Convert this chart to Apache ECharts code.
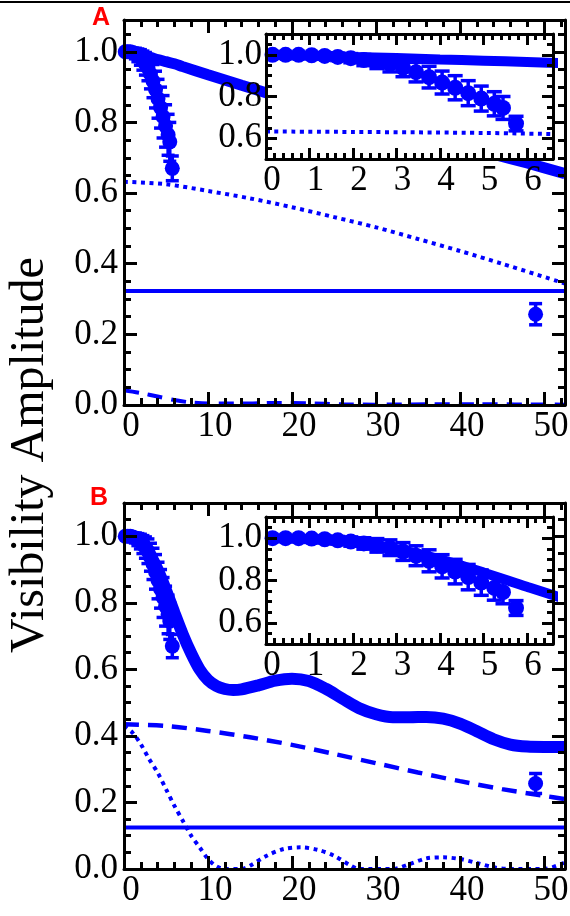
<!DOCTYPE html>
<html>
<head>
<meta charset="utf-8">
<script src="https://cdn.jsdelivr.net/npm/echarts@6/dist/echarts.min.js"></script>
<style>
html, body { margin: 0; padding: 0; background: #fff; }
#chart { width: 570px; height: 916px; }
</style>
</head>
<body>
<div id="chart"></div>
<script>
const blue = '#0000ff';
const serif = 'Liberation Serif';

// measured visibilities (same in A and B)
const ptX = [0.15, 0.45, 0.75, 1.05, 1.35, 1.65, 1.95, 2.25, 2.55, 2.85, 3.15, 3.45, 3.75, 4.05, 4.35, 4.65, 4.95, 5.25, 5.45, 5.75, 49.0];
const ptY = [1.0, 1.0, 1.0, 0.998, 0.995, 0.99, 0.984, 0.975, 0.966, 0.955, 0.937, 0.917, 0.893, 0.867, 0.842, 0.816, 0.79, 0.765, 0.745, 0.67, 0.257];
const ptErr = [0.008, 0.008, 0.01, 0.012, 0.015, 0.018, 0.022, 0.027, 0.032, 0.037, 0.042, 0.047, 0.052, 0.055, 0.058, 0.06, 0.06, 0.058, 0.055, 0.035, 0.03];

// tick labels
const mainXTicks = [0, 10, 20, 30, 40, 50];
const mainYTicks = [0, 0.2, 0.4, 0.6, 0.8, 1.0];
const insetXTicks = [0, 1, 2, 3, 4, 5, 6];
const insetYTicks = [0.6, 0.8, 1.0];

// panel A model curves
const fitA = [[0, 1.0], [1, 0.995], [2, 0.99], [3, 0.985], [4, 0.978], [5, 0.972], [6, 0.966], [7, 0.958], [10, 0.935], [14, 0.905], [20, 0.862], [26, 0.82], [32, 0.782], [38, 0.745], [44, 0.71], [48, 0.685], [52.5, 0.655]];
const dotA = [[0, 0.632], [5, 0.625], [10, 0.606], [15, 0.585], [20, 0.56], [25, 0.532], [30, 0.503], [35, 0.47], [40, 0.436], [45, 0.4], [52.5, 0.344]];
const flatA = [[0, 0.323], [52.5, 0.323]];
const dashA = [[0, 0.042], [2, 0.034], [4, 0.024], [6, 0.014], [8, 0.007], [10, 0.004], [14, 0.004], [18, 0.006], [22, 0.005], [26, 0.002], [30, 0.001], [36, 0.002], [42, 0.002], [52.5, 0.001]];

// panel B model curves
const fitB = [[0, 1.0], [1, 0.995], [2, 0.98], [3, 0.948], [4, 0.9], [5, 0.838], [6, 0.77], [7, 0.705], [8, 0.648], [9, 0.6], [10, 0.568], [11, 0.55], [12, 0.541], [13, 0.538], [14, 0.54], [16, 0.552], [18, 0.566], [20, 0.572], [22, 0.565], [24, 0.542], [26, 0.512], [28, 0.483], [30, 0.465], [32, 0.456], [34, 0.456], [36, 0.457], [38, 0.452], [40, 0.437], [42, 0.414], [44, 0.39], [46, 0.374], [48, 0.368], [50, 0.367], [52.5, 0.367]];
const dashB = [[0, 0.435], [5, 0.43], [10, 0.415], [15, 0.396], [20, 0.373], [25, 0.346], [30, 0.318], [35, 0.29], [40, 0.264], [45, 0.24], [50, 0.22], [52.5, 0.21]];
const dotB = [[0, 0.43], [1, 0.41], [2, 0.375], [3, 0.33], [4, 0.29], [5, 0.24], [6, 0.19], [7, 0.145], [8, 0.1], [9, 0.065], [10, 0.03], [11, 0.008], [12, 0.0], [14, 0.0], [15, 0.01], [17, 0.04], [19, 0.06], [21, 0.065], [23, 0.058], [25, 0.04], [27, 0.01], [28, 0], [32, 0], [34, 0.015], [36, 0.032], [38, 0.035], [40, 0.03], [42, 0.018], [44, 0.005], [46, 0], [50, 0], [52.5, 0.02]];
const flatB = [[0, 0.125], [52.5, 0.125]];

const pts = ptX.map((x, i) => [x, ptY[i], ptErr[i]]);

// A main, A inset, B main, B inset
const grids = [
  { left: 124, top: 20, width: 441, height: 385 },
  { left: 266, top: 34, width: 287, height: 125 },
  { left: 124, top: 503, width: 441, height: 366 },
  { left: 266, top: 517, width: 287, height: 127 }
];

const tickStyle = { color: '#000', width: 3 };

function xAxesFor(g, min, max, ticks, step, z, majLen, minLen, pad) {
  const base = { type: 'value', gridIndex: g, min, max, splitLine: { show: false }, z };
  const line = { show: true, onZero: false, lineStyle: { color: '#000', width: 3 } };
  const noLine = { show: false, onZero: false };
  return [
    { ...base, position: 'bottom', axisLine: line,
      axisTick: { inside: true, length: majLen, lineStyle: tickStyle, customValues: ticks },
      axisLabel: { customValues: ticks, fontFamily: serif, fontSize: 35, color: '#000', margin: 4,
        padding: [0, 0, 0, pad], formatter: v => String(v) } },
    { ...base, position: 'bottom', interval: step, axisLine: noLine,
      axisTick: { inside: true, length: minLen, lineStyle: tickStyle }, axisLabel: { show: false } },
    { ...base, position: 'top', axisLine: line,
      axisTick: { inside: true, length: majLen, lineStyle: tickStyle, customValues: ticks }, axisLabel: { show: false } },
    { ...base, position: 'top', interval: step, axisLine: noLine,
      axisTick: { inside: true, length: minLen, lineStyle: tickStyle }, axisLabel: { show: false } }
  ];
}

function yAxesFor(g, min, max, ticks, step, z, majLen, minLen, margin) {
  const base = { type: 'value', gridIndex: g, min, max, splitLine: { show: false }, z };
  const line = { show: true, onZero: false, lineStyle: { color: '#000', width: 3 } };
  const noLine = { show: false, onZero: false };
  return [
    { ...base, position: 'left', axisLine: line,
      axisTick: { inside: true, length: majLen, lineStyle: tickStyle, customValues: ticks },
      axisLabel: { customValues: ticks, fontFamily: serif, fontSize: 35, color: '#000', margin,
        formatter: v => v.toFixed(1) } },
    { ...base, position: 'left', interval: step, axisLine: noLine,
      axisTick: { inside: true, length: minLen, lineStyle: tickStyle }, axisLabel: { show: false } },
    { ...base, position: 'right', axisLine: line,
      axisTick: { inside: true, length: majLen, lineStyle: tickStyle, customValues: ticks }, axisLabel: { show: false } },
    { ...base, position: 'right', interval: step, axisLine: noLine,
      axisTick: { inside: true, length: minLen, lineStyle: tickStyle }, axisLabel: { show: false } }
  ];
}

function curve(g, data, width, type, z, smooth) {
  return {
    type: 'line', xAxisIndex: 4 * g, yAxisIndex: 4 * g, data, symbol: 'none',
    smooth: smooth === undefined ? 0.3 : smooth, clip: true, silent: true, z,
    lineStyle: { color: blue, width, type, cap: 'butt', opacity: 1 }
  };
}

function errBars(g, capW, z) {
  return {
    type: 'custom', xAxisIndex: 4 * g, yAxisIndex: 4 * g, data: pts, clip: true, silent: true, z,
    encode: { x: 0, y: 1 },
    renderItem(params, api) {
      const x = api.value(0), y = api.value(1), e = api.value(2);
      const hi = api.coord([x, y + e]), lo = api.coord([x, y - e]);
      const st = { stroke: blue, lineWidth: 3.5 };
      return {
        type: 'group', children: [
          { type: 'line', shape: { x1: hi[0], y1: hi[1], x2: lo[0], y2: lo[1] }, style: st },
          { type: 'line', shape: { x1: hi[0] - capW / 2, y1: hi[1], x2: hi[0] + capW / 2, y2: hi[1] }, style: st },
          { type: 'line', shape: { x1: lo[0] - capW / 2, y1: lo[1], x2: lo[0] + capW / 2, y2: lo[1] }, style: st }
        ]
      };
    }
  };
}

function dots(g, size, z) {
  return {
    type: 'scatter', xAxisIndex: 4 * g, yAxisIndex: 4 * g, data: pts.map(p => [p[0], p[1]]),
    symbol: 'circle', symbolSize: size, itemStyle: { color: blue, opacity: 1 }, clip: true, silent: true, z
  };
}

const dotted = [4, 4.5];
const dashed = [15, 9];

const chart = echarts.init(document.getElementById('chart'));
chart.setOption({
  animation: false,
  backgroundColor: '#fff',
  grid: grids.map((g, i) => ({
    ...g, containLabel: false, outerBoundsMode: 'none',
    show: i % 2 === 1, backgroundColor: '#fff', borderWidth: 0, z: i % 2 ? 5 : 0
  })),
  xAxis: [
    ...xAxesFor(0, 0, 52.5, mainXTicks, 2, 3, 13, 7, 14),
    ...xAxesFor(1, 0, 6.6, insetXTicks, 0.2, 7, 11, 6, 12),
    ...xAxesFor(2, 0, 52.5, mainXTicks, 2, 3, 13, 7, 14),
    ...xAxesFor(3, 0, 6.6, insetXTicks, 0.2, 7, 11, 6, 12)
  ],
  yAxis: [
    ...yAxesFor(0, 0, 1.09, mainYTicks, 0.05, 3, 13, 7, 6),
    ...yAxesFor(1, 0.5, 1.1, insetYTicks, 0.05, 7, 11, 6, 4),
    ...yAxesFor(2, 0, 1.1, mainYTicks, 0.05, 3, 13, 7, 6),
    ...yAxesFor(3, 0.5, 1.1, insetYTicks, 0.05, 7, 11, 6, 4)
  ],
  series: [
    // A main
    curve(0, fitA, 11, 'solid', 2),
    curve(0, dotA, 4, dotted, 2),
    curve(0, flatA, 4, 'solid', 2, false),
    curve(0, dashA, 4, dashed, 2),
    errBars(0, 13, 2),
    dots(0, 15, 2),
    // A inset
    curve(1, fitA, 10, 'solid', 6),
    curve(1, dotA, 4, dotted, 6),
    errBars(1, 15, 6),
    dots(1, 16, 6),
    // B main
    curve(2, fitB, 12, 'solid', 2),
    curve(2, dashB, 4.5, dashed, 2),
    curve(2, dotB, 4, dotted, 2),
    curve(2, flatB, 4, 'solid', 2, false),
    errBars(2, 13, 2),
    dots(2, 15, 2),
    // B inset
    curve(3, fitB, 10, 'solid', 6),
    errBars(3, 15, 6),
    dots(3, 16, 6)
  ],
  graphic: [
    { type: 'line', shape: { x1: 0, y1: 2, x2: 570, y2: 2 }, style: { stroke: '#000', lineWidth: 2 } },
    { type: 'text', x: 92, y: 18, style: { text: 'A', font: 'bold 25px "Liberation Sans"', fill: '#ff0000', align: 'left', verticalAlign: 'middle' } },
    { type: 'text', x: 90, y: 498, style: { text: 'B', font: 'bold 25px "Liberation Sans"', fill: '#ff0000', align: 'left', verticalAlign: 'middle' } },
    { type: 'text', x: 30, y: 455, rotation: Math.PI / 2,
      style: { text: 'Visibility Amplitude', font: '48px "Liberation Serif"', fill: '#000', align: 'center', verticalAlign: 'middle' } }
  ]
});
</script>
</body>
</html>
